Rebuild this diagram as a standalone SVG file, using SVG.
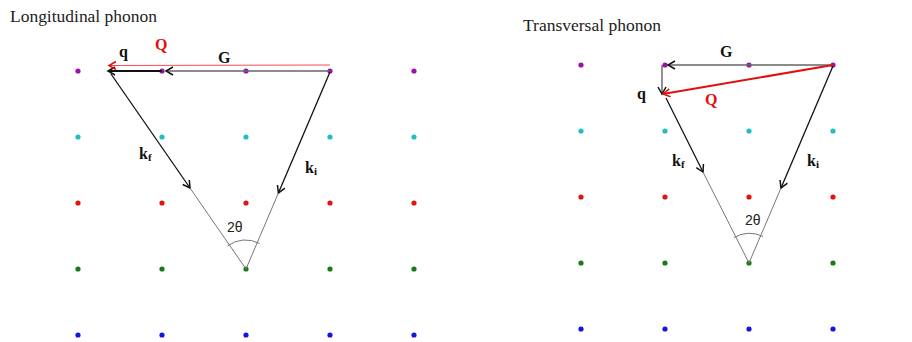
<svg xmlns="http://www.w3.org/2000/svg" width="912" height="342" viewBox="0 0 912 342">
<style>
  .title { font-family: "Liberation Serif", "DejaVu Serif", serif; font-size: 16.5px; fill: #222; }
  .lbl { font-family: "Liberation Serif", "DejaVu Serif", serif; font-size: 16px; font-weight: bold; fill: #111; }
  .red { fill: #e01010; }
  .sub { font-size: 11px; }
  .ang { font-family: "Liberation Sans", "DejaVu Sans", sans-serif; font-size: 14px; fill: #222; }
  .p { fill: #9a12a8; } .c { fill: #1ebfbf; } .r { fill: #e01414; } .g { fill: #177a17; } .b { fill: #1414e6; }
  .gray { stroke: #666; stroke-width: 1.3; fill: none; }
  .blk { stroke: #111; stroke-width: 1.3; fill: none; }
  .thin { stroke: #777; stroke-width: 1; fill: none; }
</style>
<defs>
  <marker id="ab" markerUnits="userSpaceOnUse" markerWidth="12" markerHeight="12" refX="9" refY="6" orient="auto">
    <path d="M2,2 L9,6 L2,10" fill="none" stroke="#111" stroke-width="1.5"/>
  </marker>
  <marker id="ar" markerUnits="userSpaceOnUse" markerWidth="12" markerHeight="12" refX="9" refY="6" orient="auto">
    <path d="M2,2 L9,6 L2,10" fill="none" stroke="#e01010" stroke-width="1.5"/>
  </marker>
  <circle id="d" r="2.6"/>
</defs>

<text class="title" x="10" y="22" textLength="147" lengthAdjust="spacingAndGlyphs">Longitudinal phonon</text>
<text class="title" x="523" y="31" textLength="138" lengthAdjust="spacingAndGlyphs">Transversal phonon</text>

<g id="lattice-left">
  <g class="p"><use href="#d" x="78" y="71"/><use href="#d" x="162" y="71"/><use href="#d" x="246" y="71"/><use href="#d" x="330" y="71"/><use href="#d" x="414" y="71"/></g>
  <g class="c"><use href="#d" x="78" y="137"/><use href="#d" x="162" y="137"/><use href="#d" x="246" y="137"/><use href="#d" x="330" y="137"/><use href="#d" x="414" y="137"/></g>
  <g class="r"><use href="#d" x="78" y="203"/><use href="#d" x="162" y="203"/><use href="#d" x="246" y="203"/><use href="#d" x="330" y="203"/><use href="#d" x="414" y="203"/></g>
  <g class="g"><use href="#d" x="78" y="269"/><use href="#d" x="162" y="269"/><use href="#d" x="246" y="269"/><use href="#d" x="330" y="269"/><use href="#d" x="414" y="269"/></g>
  <g class="b"><use href="#d" x="78" y="335"/><use href="#d" x="162" y="335"/><use href="#d" x="246" y="335"/><use href="#d" x="330" y="335"/><use href="#d" x="414" y="335"/></g>
</g>

<g id="lattice-right">
  <g class="p"><use href="#d" x="581" y="65"/><use href="#d" x="665" y="65"/><use href="#d" x="749" y="65"/><use href="#d" x="833" y="65"/></g>
  <g class="c"><use href="#d" x="581" y="131"/><use href="#d" x="665" y="131"/><use href="#d" x="749" y="131"/><use href="#d" x="833" y="131"/></g>
  <g class="r"><use href="#d" x="581" y="197"/><use href="#d" x="665" y="197"/><use href="#d" x="749" y="197"/><use href="#d" x="833" y="197"/></g>
  <g class="g"><use href="#d" x="581" y="263"/><use href="#d" x="665" y="263"/><use href="#d" x="749" y="263"/><use href="#d" x="833" y="263"/></g>
  <g class="b"><use href="#d" x="581" y="329"/><use href="#d" x="665" y="329"/><use href="#d" x="749" y="329"/><use href="#d" x="833" y="329"/></g>
</g>

<g id="connectors">
  <!-- left: longitudinal -->
  <line class="gray" x1="330" y1="71" x2="166" y2="71" marker-end="url(#ab)"/>
  <line x1="162" y1="71" x2="108" y2="71" stroke="#111" stroke-width="2" marker-end="url(#ab)"/>
  <line x1="330" y1="65" x2="109" y2="65.5" stroke="#f05050" stroke-width="1" marker-end="url(#ar)"/>
  <line class="blk" x1="111" y1="74" x2="190" y2="188" marker-end="url(#ab)"/>
  <line class="thin" x1="190" y1="188" x2="246" y2="269"/>
  <line class="blk" x1="330" y1="72" x2="278.4" y2="193" marker-end="url(#ab)"/>
  <line class="thin" x1="278.4" y1="193" x2="246" y2="269"/>
  <path class="thin" d="M227.5,246 A29.5,29.5 0 0 1 259.5,243.5"/>

  <!-- right: transversal -->
  <line class="gray" x1="833" y1="65" x2="668" y2="65" marker-end="url(#ab)"/>
  <line x1="662" y1="65" x2="662" y2="94" stroke="#555" stroke-width="1.3" marker-end="url(#ab)"/>
  <line x1="833" y1="65" x2="663" y2="94" stroke="#e01010" stroke-width="2" marker-end="url(#ar)"/>
  <line class="blk" x1="666" y1="98" x2="703" y2="172" marker-end="url(#ab)"/>
  <line class="thin" x1="703" y1="172" x2="749" y2="263"/>
  <line class="blk" x1="833" y1="66" x2="781" y2="188" marker-end="url(#ab)"/>
  <line class="thin" x1="781" y1="188" x2="749" y2="263"/>
  <path class="thin" d="M734,237.5 A30,30 0 0 1 763,236.5"/>
</g>

<g id="labels-left">
  <text class="lbl" x="119" y="57">q</text>
  <text class="lbl red" x="155" y="50" font-size="17">Q</text>
  <text class="lbl" x="218" y="63">G</text>
  <text class="lbl" x="139" y="159">k<tspan class="sub" dy="2">f</tspan></text>
  <text class="lbl" x="305" y="173">k<tspan class="sub" dy="2">i</tspan></text>
  <text class="ang" x="227" y="232">2θ</text>
</g>

<g id="labels-right">
  <text class="lbl" x="637" y="99">q</text>
  <text class="lbl red" x="705" y="105" font-size="17">Q</text>
  <text class="lbl" x="720" y="57">G</text>
  <text class="lbl" x="672" y="166">k<tspan class="sub" dy="2">f</tspan></text>
  <text class="lbl" x="807" y="166">k<tspan class="sub" dy="2">i</tspan></text>
  <text class="ang" x="745" y="225">2θ</text>
</g>
</svg>
